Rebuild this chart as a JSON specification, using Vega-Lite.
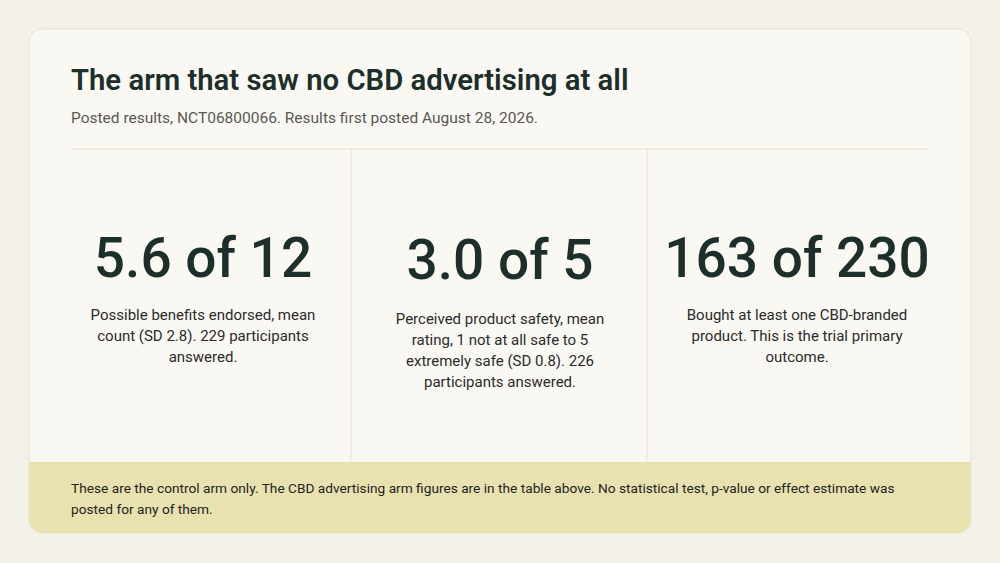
{
  "$schema": "https://vega.github.io/schema/vega-lite/v6.json",
  "width": 1000,
  "height": 563,
  "padding": 0,
  "autosize": {"type": "fit", "contains": "padding"},
  "background": "#f4f1e9",
  "view": {"stroke": null},
  "config": {"font": "Roboto"},
  "datasets": {
    "panels": [
      {"part": "card", "x": 29, "x2": 971, "y": 29, "y2": 533},
      {"part": "footer", "x": 29, "x2": 971, "y": 462, "y2": 533}
    ],
    "dividers": [
      {"x": 71, "x2": 929, "y": 149, "y2": 149},
      {"x": 351, "x2": 351, "y": 149, "y2": 462},
      {"x": 647, "x2": 647, "y": 149, "y2": 462}
    ],
    "stats": [
      {"x": 203, "y": 277, "figure": "5.6 of 12", "dy": 320, "note": "Possible benefits endorsed, mean\ncount (SD 2.8). 229 participants\nanswered."},
      {"x": 500, "y": 279, "figure": "3.0 of 5", "dy": 324, "note": "Perceived product safety, mean\nrating, 1 not at all safe to 5\nextremely safe (SD 0.8). 226\nparticipants answered."},
      {"x": 797, "y": 277, "figure": "163 of 230", "dy": 320, "note": "Bought at least one CBD-branded\nproduct. This is the trial primary\noutcome."}
    ],
    "heads": [
      {"x": 71, "y": 90, "text": "The arm that saw no CBD advertising at all", "kind": "title"},
      {"x": 71, "y": 123, "text": "Posted results, NCT06800066. Results first posted August 28, 2026.", "kind": "subtitle"},
      {"x": 71, "y": 493, "text": "These are the control arm only. The CBD advertising arm figures are in the table above. No statistical test, p-value or effect estimate was\nposted for any of them.", "kind": "footer"}
    ]
  },
  "layer": [
    {
      "data": {"name": "panels"},
      "transform": [{"filter": "datum.part === 'card'"}],
      "mark": {"type": "rect", "fill": "#faf8f2", "stroke": "#e7e2d6", "strokeWidth": 1, "cornerRadius": 14},
      "encoding": {
        "x": {"field": "x", "type": "quantitative", "scale": {"domain": [0, 1000], "nice": false, "zero": false}, "axis": null},
        "x2": {"field": "x2"},
        "y": {"field": "y", "type": "quantitative", "scale": {"domain": [0, 563], "nice": false, "zero": false, "reverse": true}, "axis": null},
        "y2": {"field": "y2"}
      }
    },
    {
      "data": {"name": "panels"},
      "transform": [{"filter": "datum.part === 'footer'"}],
      "mark": {"type": "rect", "fill": "#e8e2b0", "cornerRadiusBottomLeft": 14, "cornerRadiusBottomRight": 14},
      "encoding": {
        "x": {"field": "x", "type": "quantitative"},
        "x2": {"field": "x2"},
        "y": {"field": "y", "type": "quantitative"},
        "y2": {"field": "y2"}
      }
    },
    {
      "data": {"name": "dividers"},
      "mark": {"type": "rule", "color": "#e6e1d5", "strokeWidth": 1},
      "encoding": {
        "x": {"field": "x", "type": "quantitative"},
        "x2": {"field": "x2"},
        "y": {"field": "y", "type": "quantitative"},
        "y2": {"field": "y2"}
      }
    },
    {
      "data": {"name": "stats"},
      "mark": {"type": "text", "align": "center", "baseline": "alphabetic", "fontSize": 55, "fontWeight": 500, "color": "#1d2f2a"},
      "encoding": {
        "x": {"field": "x", "type": "quantitative"},
        "y": {"field": "y", "type": "quantitative"},
        "text": {"field": "figure"}
      }
    },
    {
      "data": {"name": "stats"},
      "mark": {"type": "text", "align": "center", "baseline": "alphabetic", "fontSize": 15, "lineHeight": 21, "lineBreak": "\n", "color": "#2b2b2b"},
      "encoding": {
        "x": {"field": "x", "type": "quantitative"},
        "y": {"field": "dy", "type": "quantitative"},
        "text": {"field": "note"}
      }
    },
    {
      "data": {"name": "heads"},
      "transform": [{"filter": "datum.kind === 'title'"}],
      "mark": {"type": "text", "align": "left", "baseline": "alphabetic", "fontSize": 29.3, "fontWeight": 600, "color": "#1d2f2a"},
      "encoding": {
        "x": {"field": "x", "type": "quantitative"},
        "y": {"field": "y", "type": "quantitative"},
        "text": {"field": "text"}
      }
    },
    {
      "data": {"name": "heads"},
      "transform": [{"filter": "datum.kind === 'subtitle'"}],
      "mark": {"type": "text", "align": "left", "baseline": "alphabetic", "fontSize": 15.5, "color": "#585854"},
      "encoding": {
        "x": {"field": "x", "type": "quantitative"},
        "y": {"field": "y", "type": "quantitative"},
        "text": {"field": "text"}
      }
    },
    {
      "data": {"name": "heads"},
      "transform": [{"filter": "datum.kind === 'footer'"}],
      "mark": {"type": "text", "align": "left", "baseline": "alphabetic", "fontSize": 13.7, "lineHeight": 21, "lineBreak": "\n", "color": "#23231c"},
      "encoding": {
        "x": {"field": "x", "type": "quantitative"},
        "y": {"field": "y", "type": "quantitative"},
        "text": {"field": "text"}
      }
    }
  ]
}
